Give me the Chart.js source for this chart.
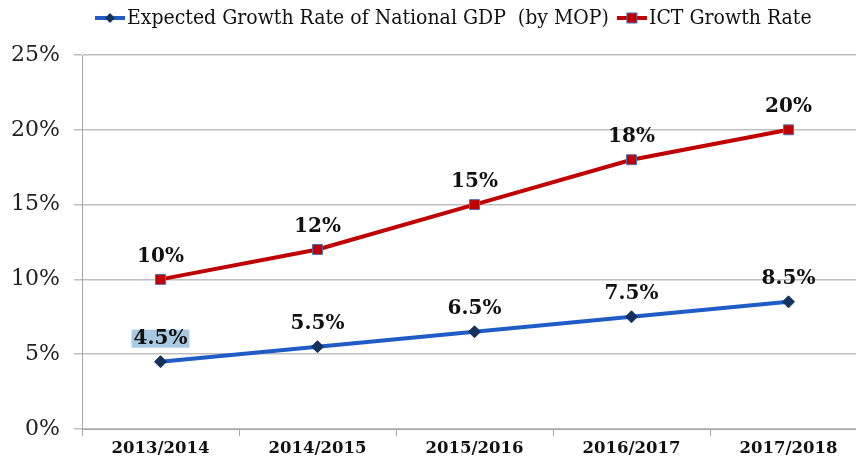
<!DOCTYPE html>
<html>
<head>
<meta charset="utf-8">
<script src="https://cdn.jsdelivr.net/npm/chart.js@4/dist/chart.umd.min.js"></script>
<style>
  html, body { margin: 0; padding: 0; background: #fff; overflow: hidden; }
  #wrap { width: 875px; height: 460px; }
</style>
</head>
<body>
<div id="wrap"><canvas id="chart"></canvas></div>
<script>
const years = ["2013/2014", "2014/2015", "2015/2016", "2016/2017", "2017/2018"];
const gdpGrowth = [4.5, 5.5, 6.5, 7.5, 8.5];
const ictGrowth = [10, 12, 15, 18, 20];
const gdpLabels = ["4.5%", "5.5%", "6.5%", "7.5%", "8.5%"];
const ictLabels = ["10%", "12%", "15%", "18%", "20%"];
const yTicks = [0, 5, 10, 15, 20, 25];

const serif = "'DejaVu Serif', 'Liberation Serif', serif";
const blue = "#1f5cc6";
const navy = "#14325e";
const red = "#c00000";

// value labels above each point, the first GDP one sits on a highlight
const valueLabels = {
  id: "valueLabels",
  afterDatasetsDraw(chart) {
    const ctx = chart.ctx;
    const sets = [gdpLabels, ictLabels];
    ctx.save();
    ctx.font = "bold 20px " + serif;
    ctx.textAlign = "center";
    ctx.textBaseline = "middle";
    sets.forEach((labels, di) => {
      chart.getDatasetMeta(di).data.forEach((pt, i) => {
        const x = pt.x, y = pt.y - 23;
        if (di === 0 && i === 0) {
          const w = ctx.measureText(labels[i]).width;
          ctx.fillStyle = "#a9c8e2";
          ctx.fillRect(x - w / 2 - 2, y - 9, w + 4, 18);
        }
        ctx.fillStyle = "#111";
        ctx.fillText(labels[i], x, y);
      });
    });
    ctx.restore();
  }
};

// legend with line + marker drawn like the office style
const lineLegend = {
  id: "lineLegend",
  afterDraw(chart) {
    const ctx = chart.ctx;
    const items = [
      { text: "Expected Growth Rate of National GDP  (by MOP)", line: blue, mark: "diamond" },
      { text: "ICT Growth Rate", line: red, mark: "square" }
    ];
    const y = 18;
    let x = 95;
    ctx.save();
    ctx.font = "21px 'DejaVu Serif Condensed', 'Liberation Serif', serif";
    ctx.textBaseline = "middle";
    items.forEach(it => {
      ctx.strokeStyle = it.line;
      ctx.lineWidth = 4;
      ctx.beginPath();
      ctx.moveTo(x, y);
      ctx.lineTo(x + 30, y);
      ctx.stroke();
      const cx = x + 15;
      if (it.mark === "diamond") {
        ctx.fillStyle = navy;
        ctx.beginPath();
        ctx.moveTo(cx, y - 5); ctx.lineTo(cx + 5, y); ctx.lineTo(cx, y + 5); ctx.lineTo(cx - 5, y);
        ctx.closePath();
        ctx.fill();
      } else {
        ctx.fillStyle = red;
        ctx.fillRect(cx - 5, y - 5, 10, 10);
        ctx.strokeStyle = "#4f6fae";
        ctx.lineWidth = 1;
        ctx.strokeRect(cx - 5, y - 5, 10, 10);
      }
      ctx.fillStyle = "#111";
      ctx.fillText(it.text, x + 32, y + 1);
      x += 32 + ctx.measureText(it.text).width + 8;
    });
    ctx.restore();
  }
};

new Chart(document.getElementById("chart"), {
  type: "line",
  data: {
    labels: years,
    datasets: [
      {
        label: "Expected Growth Rate of National GDP  (by MOP)",
        data: gdpGrowth,
        borderColor: blue,
        borderWidth: 4,
        pointStyle: "rectRot",
        pointRadius: 6,
        pointBackgroundColor: navy,
        pointBorderColor: navy,
        pointBorderWidth: 1,
        tension: 0
      },
      {
        label: "ICT Growth Rate",
        data: ictGrowth,
        borderColor: red,
        borderWidth: 4,
        pointStyle: "rect",
        pointRadius: 7,
        pointBackgroundColor: red,
        pointBorderColor: "#4f6fae",
        pointBorderWidth: 1,
        tension: 0
      }
    ]
  },
  options: {
    responsive: true,
    maintainAspectRatio: false,
    animation: false,
    layout: { padding: { top: 55, right: 0, left: 0, bottom: 0 } },
    plugins: {
      legend: { display: false },
      tooltip: { enabled: false }
    },
    scales: {
      x: {
        offset: true,
        grid: {
          offset: true,
          drawOnChartArea: false,
          drawTicks: true,
          tickLength: 7,
          color: "#a6a6a6"
        },
        border: { color: "#a6a6a6", width: 1 },
        ticks: {
          color: "#111",
          font: { family: serif, size: 16.5, weight: "bold" },
          padding: 3
        },
        afterFit(scale) { scale.height = 31; }
      },
      y: {
        min: 0,
        max: 25,
        afterBuildTicks(scale) { scale.ticks = yTicks.map(v => ({ value: v })); },
        grid: { color: "#bfbfbf", lineWidth: 1.5, tickLength: 8 },
        border: { color: "#a6a6a6", width: 1 },
        ticks: {
          color: "#222",
          font: { family: serif, size: 22 },
          padding: 14,
          callback: v => v + "%"
        },
        afterFit(scale) { scale.width = 82; }
      }
    }
  },
  plugins: [valueLabels, lineLegend]
});
</script>
</body>
</html>
